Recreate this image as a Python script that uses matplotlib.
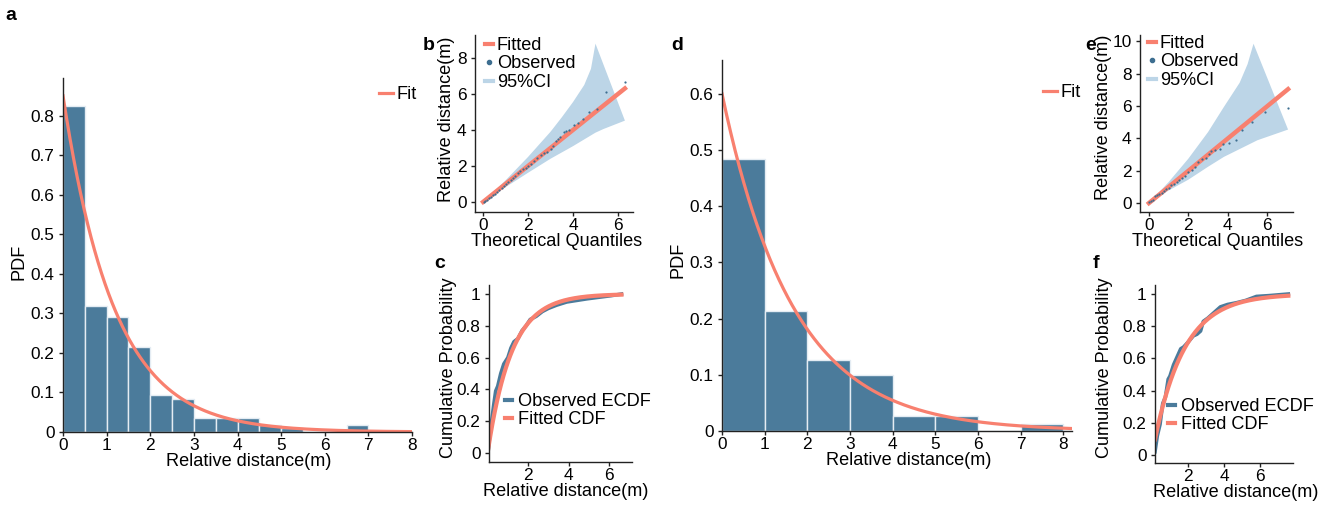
import matplotlib
matplotlib.use('Agg')
import matplotlib.pyplot as plt
from matplotlib.lines import Line2D
import numpy as np

plt.rcParams['font.family'] = ['Liberation Sans', 'DejaVu Sans']
plt.rcParams['font.size'] = 13.1

# ---------------- data ----------------
# panel a: histogram (bin width 0.5) and exponential fit rate
bins_a = np.arange(0, 8.01, 0.5)
pdf_a = [0.825, 0.318, 0.29, 0.215, 0.093, 0.083, 0.036, 0.036, 0.036,
         0.018, 0.009, 0.0, 0.0, 0.018, 0.0, 0.0]
fit_rate_a = 0.85

# panel b: QQ plot
qq_b_theo = [0.02, 0.1, 0.18, 0.26, 0.35, 0.44, 0.53, 0.62, 0.72, 0.82, 0.92,
             1.02, 1.12, 1.22, 1.33, 1.44, 1.55, 1.66, 1.78, 1.9, 2.02, 2.15,
             2.28, 2.42, 2.56, 2.7, 2.85, 3.0, 3.12, 3.24, 3.35, 3.42, 3.61,
             3.67, 3.81, 4.06, 4.24, 4.43, 4.71, 5.05, 5.49, 6.31]
qq_b_obs = [0.01, 0.06, 0.13, 0.2, 0.28, 0.37, 0.46, 0.55, 0.68, 0.8, 0.9,
            1.0, 1.12, 1.24, 1.32, 1.45, 1.62, 1.72, 1.82, 1.9, 2.0, 2.12,
            2.3, 2.45, 2.6, 2.72, 2.8, 2.92, 3.1, 3.39, 3.52, 3.59, 3.89,
            3.94, 4.02, 4.26, 4.41, 4.63, 4.98, 5.18, 6.09, 6.65]
ci_b_up_x = [0, 1, 2, 3, 3.5, 4, 4.5, 4.8, 5.0]
ci_b_up = [0, 1.2, 2.5, 3.9, 4.7, 5.55, 6.5, 7.4, 8.8]
ci_b_lo_x = [0, 1, 2, 3, 4, 5, 5.35, 6.31]
ci_b_lo = [0, 0.82, 1.62, 2.4, 3.1, 3.85, 4.05, 4.52]
qq_b_max = 6.31

# panel c: ECDF
ecdf_c_x = [0.02, 0.1, 0.2, 0.3, 0.4, 0.5, 0.65, 0.8, 1.0, 1.15, 1.3, 1.5, 1.7,
            1.9, 2.1, 2.4, 2.7, 3.0, 3.4, 3.9, 4.4, 4.9, 5.5, 6.1, 6.6]
ecdf_c_y = [0.0, 0.1, 0.2, 0.3, 0.39, 0.42, 0.5, 0.56, 0.6, 0.66, 0.7, 0.72,
            0.77, 0.8, 0.84, 0.86, 0.89, 0.91, 0.93, 0.95, 0.96, 0.97, 0.98,
            0.99, 1.0]

# panel d: histogram (bin width 1) and exponential fit rate
bins_d = np.arange(0, 8.01, 1.0)
pdf_d = [0.483, 0.213, 0.127, 0.099, 0.027, 0.027, 0.0, 0.013]
fit_rate_d = 0.6

# panel e: QQ plot
qq_e_theo = [0.03, 0.12, 0.22, 0.32, 0.42, 0.53, 0.64, 0.76, 0.88, 1.0, 1.13,
             1.26, 1.4, 1.54, 1.69, 1.84, 2.0, 2.16, 2.33, 2.5, 2.68, 2.87,
             3.06, 3.15, 3.37, 3.59, 3.76, 4.05, 4.39, 4.73, 5.2, 5.88, 7.07]
qq_e_obs = [0.05, 0.12, 0.22, 0.45, 0.52, 0.55, 0.62, 0.72, 0.85, 0.95, 1.1,
            1.2, 1.3, 1.42, 1.55, 1.7, 1.9, 2.05, 2.25, 2.55, 2.7, 2.8, 3.05,
            3.21, 3.31, 3.37, 3.68, 3.72, 3.89, 4.55, 5.0, 5.62, 5.9]
ci_e_up_x = [0, 1, 2, 3, 3.8, 4.6, 5.0, 5.3]
ci_e_up = [0, 1.3, 2.75, 4.4, 5.95, 7.45, 8.6, 9.86]
ci_e_lo_x = [0, 1, 2, 3, 3.8, 5.5, 7.05]
ci_e_lo = [0, 0.78, 1.45, 2.25, 2.86, 3.89, 4.55]
qq_e_max = 7.05

# panel f: ECDF
ecdf_f_x = [0.17, 0.3, 0.45, 0.6, 0.75, 0.9, 1.0, 1.2, 1.4, 1.6, 1.75, 2.0,
            2.3, 2.5, 2.7, 2.85, 3.1, 3.4, 3.8, 4.2, 4.7, 5.2, 5.8, 6.5, 7.57]
ecdf_f_y = [0.02, 0.12, 0.19, 0.32, 0.36, 0.47, 0.49, 0.56, 0.61, 0.66, 0.67,
            0.70, 0.74, 0.75, 0.77, 0.83, 0.85, 0.88, 0.92, 0.935, 0.946,
            0.96, 0.985, 0.99, 1.0]

# ---------------- style ----------------
BAR = '#4b7b9b'
SALMON = '#f8806f'
CI = '#bcd5e7'
DOT = '#3d6e90'

W, H = 1342, 507
fig = plt.figure(figsize=(W / 100, H / 100), dpi=100)


def ax_px(l, r, t, b):
    return fig.add_axes([l / W, 1 - b / H, (r - l) / W, (b - t) / H])


def style(ax):
    for s in ('top', 'right'):
        ax.spines[s].set_visible(False)
    for s in ('left', 'bottom'):
        ax.spines[s].set_linewidth(1.0)
        ax.spines[s].set_color('#222222')
    ax.tick_params(direction='out', length=3, width=1,
                   colors='#222222', labelcolor='black', labelsize=12.4)
    ax.tick_params(axis='x', pad=1.2)
    ax.tick_params(axis='y', pad=3)


def labels(ax, xl, yl, xfrac, ylx, yfrac):
    ax.set_xlabel(xl, labelpad=0)
    ax.set_ylabel(yl)
    ax.xaxis.label.set_x(xfrac)
    ax.yaxis.set_label_coords(ylx, yfrac)


def leg(ax, handles, labs, x, y, hl=0.75, htp=0.2):
    ax.legend(handles, labs, loc='upper left',
              bbox_to_anchor=(x / W, 1 - y / H), bbox_transform=fig.transFigure,
              frameon=False, handlelength=hl, handletextpad=htp,
              borderpad=0, borderaxespad=0, labelspacing=0.08, fontsize=13.1)


def fmt(v, pos=None):
    return '%g' % v


# ---- panel a ----
ax = ax_px(63, 412, 78, 432)
style(ax)
ax.bar(bins_a[:-1], pdf_a, width=0.5, align='edge', color=BAR,
       edgecolor='#e4ecf3', linewidth=1.0)
xs = np.linspace(0, 8, 400)
ax.plot(xs, fit_rate_a * np.exp(-fit_rate_a * xs), color=SALMON, lw=2.3)
ax.set_xlim(0, 8)
ax.set_ylim(0, 0.895)
ax.set_xticks(range(0, 9))
ax.set_yticks(np.arange(0, 0.81, 0.1))
ax.yaxis.set_major_formatter(fmt)
labels(ax, 'Relative distance(m)', 'PDF', 0.533, -0.103, 0.48)
leg(ax, [Line2D([], [], color=SALMON, lw=2.3)], ['Fit'], 379, 86)

# ---- panel b ----
ax = ax_px(475, 633, 35, 212)
style(ax)
ax.fill(np.r_[ci_b_up_x, ci_b_lo_x[::-1]], np.r_[ci_b_up, ci_b_lo[::-1]],
        color=CI, lw=0)
ax.plot([0, qq_b_max], [0, qq_b_max], color=SALMON, lw=3.2)
ax.plot(qq_b_theo, qq_b_obs, 'o', color=DOT, ms=1.6, mew=0)
ax.set_xlim(-0.36, 6.67)
ax.set_ylim(-0.56, 9.28)
ax.set_xticks([0, 2, 4, 6])
ax.set_yticks([0, 2, 4, 6, 8])
labels(ax, 'Theoretical Quantiles', 'Relative distance(m)', 0.519, -0.128, 0.525)
leg(ax, [Line2D([], [], color=SALMON, lw=3),
         Line2D([], [], marker='o', ls='', color=DOT, ms=3),
         Line2D([], [], color=CI, lw=3)],
    ['Fitted', 'Observed', '95%CI'], 485, 37, hl=0.45, htp=0.2)

# ---- panel c ----
ax = ax_px(489, 632, 285, 462)
style(ax)
ax.plot(ecdf_c_x, ecdf_c_y, color=BAR, lw=2.6)
xs = np.linspace(0.02, 6.6, 300)
ax.plot(xs, 1 - np.exp(-fit_rate_a * xs), color=SALMON, lw=3)
ax.set_xlim(0.07, 7.12)
ax.set_ylim(-0.057, 1.057)
ax.set_xticks([2, 4, 6])
ax.set_yticks(np.arange(0, 1.01, 0.2))
ax.yaxis.set_major_formatter(fmt)
labels(ax, 'Relative distance(m)', 'Cumulative Probability', 0.538, -0.224, 0.531)
leg(ax, [Line2D([], [], color=BAR, lw=3), Line2D([], [], color=SALMON, lw=3)],
    ['Observed ECDF', 'Fitted CDF'], 505, 393, hl=0.4, htp=0.3)

# ---- panel d ----
ax = ax_px(722, 1072, 60, 431)
style(ax)
ax.bar(bins_d[:-1], pdf_d, width=1.0, align='edge', color=BAR,
       edgecolor='#e4ecf3', linewidth=1.0)
xs = np.linspace(0, 8.2, 400)
ax.plot(xs, fit_rate_d * np.exp(-fit_rate_d * xs), color=SALMON, lw=2.3)
ax.set_xlim(0, 8.2)
ax.set_ylim(0, 0.66)
ax.set_xticks(range(0, 9))
ax.set_yticks(np.arange(0, 0.61, 0.1))
ax.yaxis.set_major_formatter(fmt)
labels(ax, 'Relative distance(m)', 'PDF', 0.534, -0.1, 0.462)
leg(ax, [Line2D([], [], color=SALMON, lw=2.3)], ['Fit'], 1043, 84)

# ---- panel e ----
ax = ax_px(1140, 1293, 35, 212)
style(ax)
ax.fill(np.r_[ci_e_up_x, ci_e_lo_x[::-1]], np.r_[ci_e_up, ci_e_lo[::-1]],
        color=CI, lw=0)
ax.plot([0, qq_e_max], [0, qq_e_max], color=SALMON, lw=3.2)
ax.plot(qq_e_theo, qq_e_obs, 'o', color=DOT, ms=1.6, mew=0)
ax.set_xlim(-0.45, 7.3)
ax.set_ylim(-0.55, 10.4)
ax.set_xticks([0, 2, 4, 6])
ax.set_yticks([0, 2, 4, 6, 8, 10])
labels(ax, 'Theoretical Quantiles', 'Relative distance(m)', 0.505, -0.183, 0.537)
leg(ax, [Line2D([], [], color=SALMON, lw=3),
         Line2D([], [], marker='o', ls='', color=DOT, ms=3),
         Line2D([], [], color=CI, lw=3)],
    ['Fitted', 'Observed', '95%CI'], 1148, 35, hl=0.45, htp=0.2)

# ---- panel f ----
ax = ax_px(1155, 1293, 285, 463)
style(ax)
ax.plot(ecdf_f_x, ecdf_f_y, color=BAR, lw=2.6)
xs = np.linspace(0.17, 7.57, 300)
ax.plot(xs, 1 - np.exp(-fit_rate_d * xs), color=SALMON, lw=3)
ax.set_xlim(0.17, 7.83)
ax.set_ylim(-0.05, 1.056)
ax.set_xticks([2, 4, 6])
ax.set_yticks(np.arange(0, 1.01, 0.2))
ax.yaxis.set_major_formatter(fmt)
labels(ax, 'Relative distance(m)', 'Cumulative Probability', 0.587, -0.304, 0.534)
leg(ax, [Line2D([], [], color=BAR, lw=3), Line2D([], [], color=SALMON, lw=3)],
    ['Observed ECDF', 'Fitted CDF'], 1168, 398, hl=0.4, htp=0.3)

# ---- panel letters ----
for letter, x, y in [('a', 5, 20), ('b', 423, 50), ('c', 434, 268),
                     ('d', 671, 50), ('e', 1085, 50), ('f', 1093, 268)]:
    fig.text(x / W, 1 - y / H, letter, fontsize=14, fontweight='bold',
             ha='left', va='baseline')

fig.savefig('out.png', dpi=100)
